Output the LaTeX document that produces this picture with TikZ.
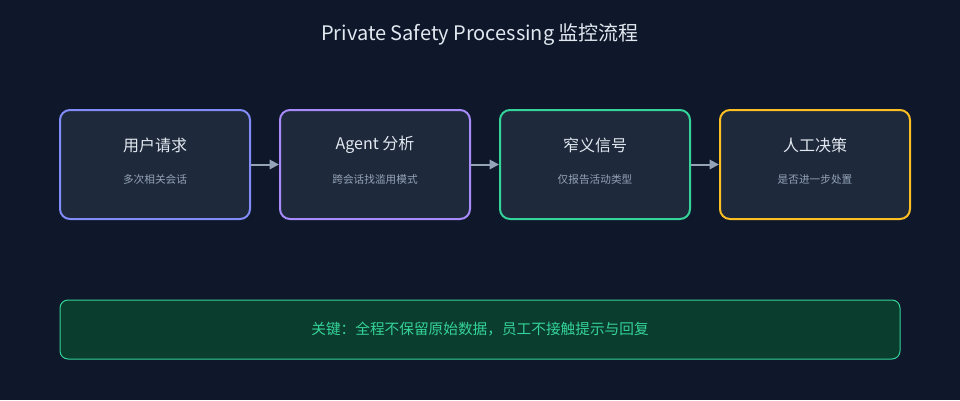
\documentclass[tikz,border=0pt]{standalone}
\usepackage{fontspec}
\setmainfont{Noto Sans CJK SC}
\usetikzlibrary{arrows.meta}
\definecolor{bgc}{HTML}{0F172A}
\definecolor{boxc}{HTML}{1E293B}
\definecolor{subc}{HTML}{94A3B8}
\definecolor{titc}{HTML}{E2E8F0}
\definecolor{c1}{HTML}{818CF8}
\definecolor{c2}{HTML}{A78BFA}
\definecolor{c3}{HTML}{34D399}
\definecolor{c4}{HTML}{FBBF24}
\definecolor{keyc}{HTML}{0B3D2E}
\tikzset{every picture/.style={line width=0.75pt}}
\tikzset{
  step/.style={draw=#1, line width=1.5pt, fill=boxc, rounded corners=7.5pt, minimum width=142.5pt, minimum height=81.75pt},
  head/.style={text=titc, font=\fontsize{12}{14}\selectfont},
  sub/.style={text=subc, font=\fontsize{8}{9}\selectfont},
  flow/.style={draw=subc, line width=1.5pt, -{Triangle[length=7pt,width=7pt]}}
}
\begin{document}
\begin{tikzpicture}[x=0.75pt,y=0.75pt,yscale=-1,xscale=1]
	\fill[bgc] (0,0) rectangle (960,400);
	\useasboundingbox (0,0) rectangle (960,400);

	% Title
	\node[text=titc, font=\fontsize{15}{17}\selectfont] (title) at (480,35) {Private Safety Processing 监控流程};

	% Steps
	\node[step=c1] (user) at (155,164.5) {};
	\node[step=c2] (agent) at (375,164.5) {};
	\node[step=c3] (signal) at (595,164.5) {};
	\node[step=c4] (human) at (815,164.5) {};

	\node[head] at (155,145) {用户请求};
	\node[sub] at (155,179) {多次相关会话};
	\node[head] at (375,145) {Agent 分析};
	\node[sub] at (375,179) {跨会话找滥用模式};
	\node[head] at (595,145) {窄义信号};
	\node[sub] at (595,179) {仅报告活动类型};
	\node[head] at (815,145) {人工决策};
	\node[sub] at (815,179) {是否进一步处置};

	% Arrows
	\draw[flow] (user) -- (agent);
	\draw[flow] (agent) -- (signal);
	\draw[flow] (signal) -- (human);

	% Key note
	\node[draw=c3, line width=0.75pt, fill=keyc, rounded corners=6pt, minimum width=630pt, minimum height=44.25pt, text=c3, font=\fontsize{11}{13}\selectfont] (key) at (480,329.5) {关键：全程不保留原始数据，员工不接触提示与回复};
\end{tikzpicture}
\end{document}
